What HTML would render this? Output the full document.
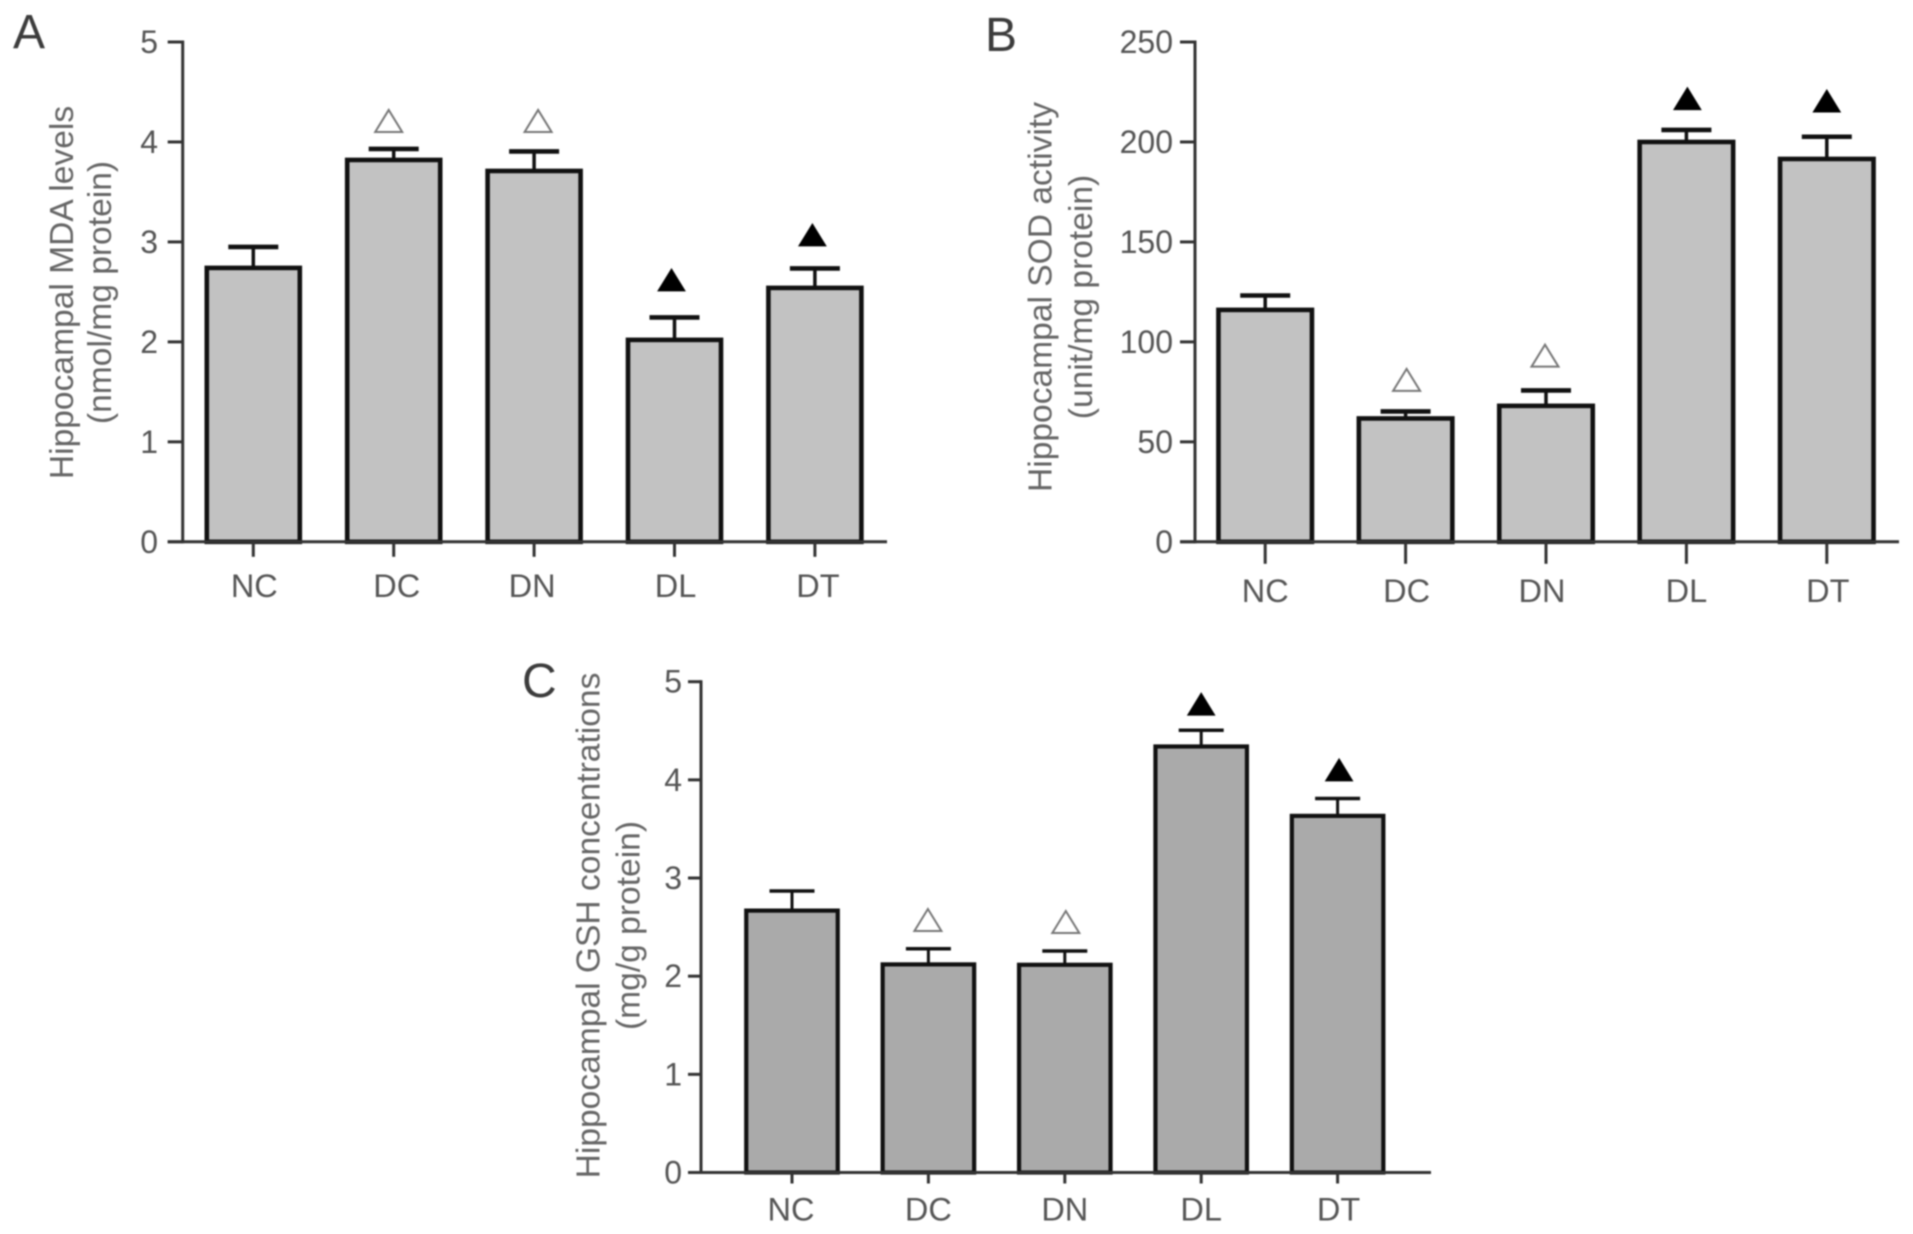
<!DOCTYPE html>
<html lang="en">
<head>
<meta charset="utf-8">
<title>Hippocampal MDA, SOD and GSH</title>
<style>
  html, body { margin: 0; padding: 0; background: #fff; }
  body { width: 1913px; height: 1234px; overflow: hidden; }
  svg { display: block; filter: blur(0.7px); }
  text { font-family: "Liberation Sans", sans-serif; fill: #555; }
</style>
</head>
<body>
<svg id="figure" xmlns="http://www.w3.org/2000/svg" width="1913" height="1234" viewBox="0 0 1913 1234"></svg>
<script>
// Shared categories
const categories = ['NC', 'DC', 'DN', 'DL', 'DT'];

// Panel A: MDA
const mdaValues = [2.74, 3.82, 3.71, 2.02, 2.54];
const mdaErrors = [0.21, 0.11, 0.195, 0.225, 0.195];
const mdaTicks = [0, 1, 2, 3, 4, 5];
const mdaMarkerLevels = [null, 4.10, 4.10, 2.51, 2.96];
const mdaMarkerKinds = ['', 'open', 'open', 'filled', 'filled'];

// Panel B: SOD
const sodValues = [116, 61.7, 68, 200, 191.5];
const sodErrors = [7.2, 3.5, 7.7, 6, 11.1];
const sodTicks = [0, 50, 100, 150, 200, 250];
const sodMarkerLevels = [null, 75.5, 87.6, 216.2, 215];
const sodMarkerKinds = ['', 'open', 'open', 'filled', 'filled'];

// Panel C: GSH
const gshValues = [2.668, 2.12, 2.116, 4.34, 3.633];
const gshErrors = [0.2, 0.16, 0.14, 0.166, 0.177];
const gshTicks = [0, 1, 2, 3, 4, 5];
const gshMarkerLevels = [null, 2.46, 2.44, 4.66, 3.99];
const gshMarkerKinds = ['', 'open', 'open', 'filled', 'filled'];

const SVG_NS = 'http://www.w3.org/2000/svg';
const figure = document.getElementById('figure');

function make(parent, tag, attrs, content) {
  const el = document.createElementNS(SVG_NS, tag);
  for (const key in attrs) el.setAttribute(key, attrs[key]);
  if (content !== undefined) el.textContent = content;
  parent.appendChild(el);
  return el;
}

function drawPanel(p) {
  const group = make(figure, 'g', {});
  
  

  const maxTick = p.ticks[p.ticks.length - 1];
  const yScale = v => p.y0 - (v / maxTick) * (p.y0 - p.yTop);
  const xScale = i => p.x0 + i * p.step;

  const letter = make(group, 'text', { x: p.letterX, y: p.letterY, 'font-size': 48, style: 'fill:#3c3c3c' }, p.letter);
  
  

  // Bars, error bars, markers
  categories.forEach((cat, i) => {
    const cx = xScale(i);
    const top = yScale(p.values[i]);
    const errTop = yScale(p.values[i] + p.errors[i]);

    const stem = make(group, 'line', { x1: cx, x2: cx, y1: top, y2: errTop, stroke: '#111', 'stroke-width': p.stemWidth });
    
    

    const cap = make(group, 'line', { x1: cx - p.capWidth / 2, x2: cx + p.capWidth / 2, y1: errTop, y2: errTop, stroke: '#111', 'stroke-width': p.capStroke });
    
    

    const bar = make(group, 'rect', { x: cx - p.barWidth / 2, y: top, width: p.barWidth, height: p.y0 - top, fill: p.fill, stroke: '#111', 'stroke-width': p.barStroke });
    
    

    if (p.markerLevels[i] !== null) {
      const base = yScale(p.markerLevels[i]);
      const mx = cx + p.markerNudge[i];
      const open = p.markerKinds[i] === 'open';
      const pts = [[mx - 13.5, base], [mx + 13.5, base], [mx, base - 22]].map(q => q.join(',')).join(' ');
      const tri = make(group, 'polygon', { points: pts, fill: open ? '#fff' : '#000', stroke: open ? '#777' : '#000', 'stroke-width': open ? 2 : 1 });
      
      
    }

    const tick = make(group, 'line', { x1: cx, x2: cx, y1: p.y0, y2: p.y0 + p.xTickLen, stroke: '#333', 'stroke-width': 3 });
    
    

    const label = make(group, 'text', { x: cx + 1 + p.labelNudge[i], y: p.xLabelY, 'font-size': 32.5, 'text-anchor': 'middle' }, cat);
    
    
  });

  // Axes
  const yAxis = make(group, 'line', { x1: p.axisX, x2: p.axisX, y1: p.yTop - 1.5, y2: p.y0 + 1.5, stroke: '#333', 'stroke-width': 3 });
  
  

  const xAxis = make(group, 'line', { x1: p.axisX - p.yTickLen, x2: p.axisRight, y1: p.y0, y2: p.y0, stroke: '#333', 'stroke-width': 3 });
  
  

  p.ticks.forEach(t => {
    const y = yScale(t);
    const tick = make(group, 'line', { x1: p.axisX - p.yTickLen, x2: p.axisX, y1: y, y2: y, stroke: '#333', 'stroke-width': 3 });
    
    

    const label = make(group, 'text', { x: p.tickLabelX, y: y + 11, 'font-size': 32, 'text-anchor': 'end' }, String(t));
    
    
  });

  // Two-line rotated axis title
  const title1 = make(group, 'text', { transform: 'translate(' + p.title1X + ',' + p.titleCenter + ') rotate(-90)', 'font-size': 33.6, 'text-anchor': 'middle', style: 'fill:#666' }, p.title1);
  
  

  const title2 = make(group, 'text', { transform: 'translate(' + p.title2X + ',' + p.titleCenter + ') rotate(-90)', 'font-size': 33.6, 'text-anchor': 'middle', style: 'fill:#666' }, p.title2);
  
  
}

drawPanel({
  id: 'a', letter: 'A', letterX: 13, letterY: 48,
  values: mdaValues, errors: mdaErrors, ticks: mdaTicks, markerLevels: mdaMarkerLevels, markerKinds: mdaMarkerKinds,
  markerNudge: [0, -5, 4, -3, -2.5], labelNudge: [0, 2, -3, 0, 2],
  axisX: 182.7, axisRight: 887, y0: 541.8, yTop: 42, x0: 253.3, step: 140.4,
  barWidth: 93, barStroke: 4.6, capWidth: 50, capStroke: 4.6, stemWidth: 3.5,
  xTickLen: 15, yTickLen: 15,
  fill: '#c2c2c2', tickLabelX: 158, xLabelY: 597,
  title1: 'Hippocampal MDA levels', title2: '(nmol/mg protein)', title1X: 73, title2X: 111, titleCenter: 292.5
});

drawPanel({
  id: 'b', letter: 'B', letterX: 985, letterY: 51,
  values: sodValues, errors: sodErrors, ticks: sodTicks, markerLevels: sodMarkerLevels, markerKinds: sodMarkerKinds,
  markerNudge: [0, 1, -1, 1, 0], labelNudge: [-1, 0, -5, -1, 0],
  axisX: 1195, axisRight: 1899, y0: 541.8, yTop: 42, x0: 1265.2, step: 140.4,
  barWidth: 93.5, barStroke: 4.6, capWidth: 50, capStroke: 4.6, stemWidth: 3.5,
  xTickLen: 22, yTickLen: 15,
  fill: '#c2c2c2', tickLabelX: 1173, xLabelY: 602,
  title1: 'Hippocampal SOD activity', title2: '(unit/mg protein)', title1X: 1051.7, title2X: 1092, titleCenter: 297
});

drawPanel({
  id: 'c', letter: 'C', letterX: 522, letterY: 697,
  values: gshValues, errors: gshErrors, ticks: gshTicks, markerLevels: gshMarkerLevels, markerKinds: gshMarkerKinds,
  markerNudge: [0, -0.5, 1, 0, 1.5], labelNudge: [-2, -1, -1, -1, 0],
  axisX: 701, axisRight: 1431, y0: 1172.5, yTop: 681.7, x0: 792, step: 136.4,
  barWidth: 91.5, barStroke: 4.2, capWidth: 45, capStroke: 3.5, stemWidth: 3,
  xTickLen: 11, yTickLen: 13,
  fill: '#aaaaaa', tickLabelX: 682, xLabelY: 1220.5,
  title1: 'Hippocampal GSH concentrations', title2: '(mg/g protein)', title1X: 599.3, title2X: 639.5, titleCenter: 925.5
});
</script>
</body>
</html>
